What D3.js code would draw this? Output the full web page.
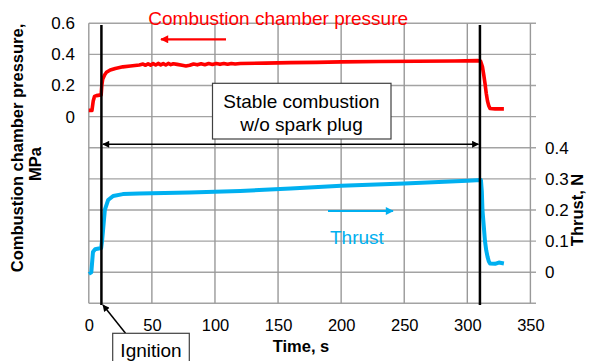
<!DOCTYPE html>
<html>
<head>
<meta charset="utf-8">
<script src="https://cdn.jsdelivr.net/npm/d3@7"></script>
<style>
html,body{margin:0;padding:0;background:#fff;}
svg{display:block;}
text{font-family:"Liberation Sans",Arial,sans-serif;}
</style>
</head>
<body>
<svg id="chart" width="590" height="361"></svg>
<script>
// ---- data ----
const timeTicks = [0, 50, 100, 150, 200, 250, 300, 350];
const pressureTicks = [0, 0.2, 0.4, 0.6];
const thrustTicks = [0, 0.1, 0.2, 0.3, 0.4];
const pressureTime = [0,2.5,3.5,4.5,6,9.8,10.3,11,12.5,14,17,21,27,33,40,43,45,47,49,51,53,55,57,59,61,63,65,67,70,74,77,80,83,86,89,92,95,98,101,104,107,110,113,116,120,140,160,180,200,230,260,290,308,310.5,312,313,314,315,316,317,318,322,329];
const pressureValue = [0.04,0.04,0.10,0.13,0.135,0.14,0.20,0.24,0.268,0.285,0.30,0.31,0.32,0.325,0.332,0.338,0.330,0.340,0.331,0.341,0.332,0.342,0.333,0.341,0.332,0.342,0.334,0.340,0.336,0.330,0.326,0.330,0.338,0.333,0.340,0.334,0.341,0.335,0.342,0.336,0.342,0.337,0.342,0.338,0.342,0.344,0.347,0.349,0.352,0.354,0.356,0.358,0.36,0.357,0.32,0.27,0.215,0.15,0.10,0.07,0.052,0.05,0.05];
const thrustTime = [0,2,2.8,3.3,5,9.8,10.5,11.3,12.7,15.3,19.3,27,40,80,120,160,200,250,300,310.8,311.5,312,313,314,315,316,317,318,322,325,329];
const thrustValue = [-0.005,0.0,0.04,0.065,0.074,0.078,0.10,0.135,0.20,0.232,0.245,0.251,0.253,0.256,0.261,0.269,0.278,0.285,0.294,0.296,0.26,0.20,0.15,0.10,0.07,0.05,0.035,0.028,0.027,0.031,0.028];
const ignitionTime = 10;
const endTime = 310;

// ---- layout ----
const svg = d3.select("#chart");
const plotTop = 23.3, plotBottom = 303.3, gridRight = 536;
const x = d3.scaleLinear().domain([0, 350]).range([88.8, 530.4]);
const yL = d3.scaleLinear().domain([-1.2, 0.6]).range([plotBottom, plotTop]);
const yR = d3.scaleLinear().domain([-0.1, 0.8]).range([plotBottom, plotTop]);
const gridColor = "#a3a3a3";

// defs (arrowheads)
const defs = svg.append("defs");
function marker(id, color, w, h) {
  defs.append("marker").attr("id", id).attr("viewBox", "0 0 10 10")
    .attr("refX", 9).attr("refY", 5).attr("markerWidth", w).attr("markerHeight", h)
    .attr("orient", "auto-start-reverse").attr("markerUnits", "userSpaceOnUse")
    .append("path").attr("d", "M0,0 L10,5 L0,10 Z").attr("fill", color);
}
marker("blackArrow", "#000", 9, 7);
marker("redArrow", "#ff0000", 11, 8);
marker("blueArrow", "#00b0f0", 11, 8);

// horizontal gridlines
const hLines = d3.range(0, 10).map(i => -1.2 + i * 0.2);
svg.append("g").selectAll("line").data(hLines).join("line")
  .attr("x1", x(0)).attr("x2", gridRight)
  .attr("y1", d => yL(d)).attr("y2", d => yL(d))
  .attr("stroke", gridColor).attr("stroke-width", 1.4);
// vertical gridlines
svg.append("g").selectAll("line").data(timeTicks).join("line")
  .attr("x1", d => x(d)).attr("x2", d => x(d))
  .attr("y1", plotTop).attr("y2", plotBottom)
  .attr("stroke", "#999").attr("stroke-width", 1.4);

// axes (labels only)
const fs = 16.5;
const xAxis = d3.axisBottom(x).tickValues(timeTicks).tickSize(0).tickPadding(0).tickFormat(d3.format("d"));
const gx = svg.append("g").attr("transform", `translate(0,${plotBottom})`).call(xAxis);
gx.select(".domain").remove();
gx.selectAll("text").attr("dy", null).attr("y", 27.5).attr("font-size", fs).attr("fill", "#000").attr("font-family", "Liberation Sans, Arial, sans-serif");

const lAxis = d3.axisLeft(yL).tickValues(pressureTicks).tickSize(0).tickPadding(0).tickFormat(d => d === 0 ? "0" : d3.format(".1f")(d));
const gl = svg.append("g").attr("transform", `translate(75,0)`).call(lAxis);
gl.select(".domain").remove();
gl.selectAll("text").attr("font-size", 17).attr("fill", "#000").attr("font-family", "Liberation Sans, Arial, sans-serif");

const rAxis = d3.axisRight(yR).tickValues(thrustTicks).tickSize(0).tickPadding(0).tickFormat(d => d === 0 ? "0" : d3.format(".1f")(d));
const gr = svg.append("g").attr("transform", `translate(545,0)`).call(rAxis);
gr.select(".domain").remove();
gr.selectAll("text").attr("font-size", 17).attr("fill", "#000").attr("font-family", "Liberation Sans, Arial, sans-serif");

// axis titles
svg.append("text").attr("x", 301).attr("y", 351.5).attr("text-anchor", "middle")
  .attr("font-size", fs).attr("font-weight", "bold").text("Time, s");
svg.append("text").attr("transform", "translate(23,148) rotate(-90)").attr("text-anchor", "middle")
  .attr("font-size", fs).attr("font-weight", "bold").text("Combustion chamber pressure,");
svg.append("text").attr("transform", "translate(41,164) rotate(-90)").attr("text-anchor", "middle")
  .attr("font-size", fs).attr("font-weight", "bold").text("MPa");
svg.append("text").attr("transform", "translate(583,210) rotate(-90)").attr("text-anchor", "middle")
  .attr("font-size", fs).attr("font-weight", "bold").text("Thrust, N");

// data lines
const pressure = pressureTime.map((t, i) => [t, pressureValue[i]]);
const thrust = thrustTime.map((t, i) => [t, thrustValue[i]]);
svg.append("path").datum(thrust)
  .attr("d", d3.line().x(d => x(d[0])).y(d => yR(d[1])))
  .attr("fill", "none").attr("stroke", "#00b0f0").attr("stroke-width", 4).attr("stroke-linejoin", "round");
svg.append("path").datum(pressure)
  .attr("d", d3.line().x(d => x(d[0])).y(d => yL(d[1])))
  .attr("fill", "none").attr("stroke", "#ff0000").attr("stroke-width", 3.6).attr("stroke-linejoin", "round");

// vertical event lines
[ignitionTime, endTime].forEach(t => {
  svg.append("line").attr("x1", x(t)).attr("x2", x(t)).attr("y1", 25).attr("y2", 305)
    .attr("stroke", "#000").attr("stroke-width", 2.5);
});

// double arrow
svg.append("line").attr("x1", x(ignitionTime) + 1.5).attr("x2", x(endTime) - 1.5)
  .attr("y1", 144.3).attr("y2", 144.3).attr("stroke", "#000").attr("stroke-width", 1.5)
  .attr("marker-start", "url(#blackArrow)").attr("marker-end", "url(#blackArrow)");

// Stable combustion box
svg.append("rect").attr("x", 212.5).attr("y", 83.3).attr("width", 178.5).attr("height", 55.7)
  .attr("fill", "#fff").attr("stroke", "#404040").attr("stroke-width", 1.2);
svg.append("text").attr("x", 301.5).attr("y", 107.5).attr("text-anchor", "middle").attr("font-size", 19).text("Stable combustion");
svg.append("text").attr("x", 301.5).attr("y", 130.5).attr("text-anchor", "middle").attr("font-size", 19).text("w/o spark plug");

// Pressure label + arrow
svg.append("text").attr("x", 148.3).attr("y", 25).attr("font-size", 19).attr("fill", "#ff0000").text("Combustion chamber pressure");
svg.append("line").attr("x1", 226).attr("x2", 161).attr("y1", 39.3).attr("y2", 39.3)
  .attr("stroke", "#ff0000").attr("stroke-width", 2.2).attr("marker-end", "url(#redArrow)");

// Thrust label + arrow
svg.append("text").attr("x", 330).attr("y", 244).attr("font-size", 19).attr("fill", "#00b0f0").text("Thrust");
svg.append("line").attr("x1", 328).attr("x2", 393).attr("y1", 211).attr("y2", 211)
  .attr("stroke", "#00b0f0").attr("stroke-width", 2.2).attr("marker-end", "url(#blueArrow)");

// Ignition box + arrow
svg.append("line").attr("x1", 125.5).attr("y1", 333.3).attr("x2", 103).attr("y2", 305)
  .attr("stroke", "#000").attr("stroke-width", 1.5).attr("marker-end", "url(#blackArrow)");
svg.append("rect").attr("x", 112.7).attr("y", 333.3).attr("width", 76.6).attr("height", 40)
  .attr("fill", "#fff").attr("stroke", "#404040").attr("stroke-width", 1.2);
svg.append("text").attr("x", 151).attr("y", 356.7).attr("text-anchor", "middle").attr("font-size", 19).text("Ignition");
</script>
</body>
</html>
